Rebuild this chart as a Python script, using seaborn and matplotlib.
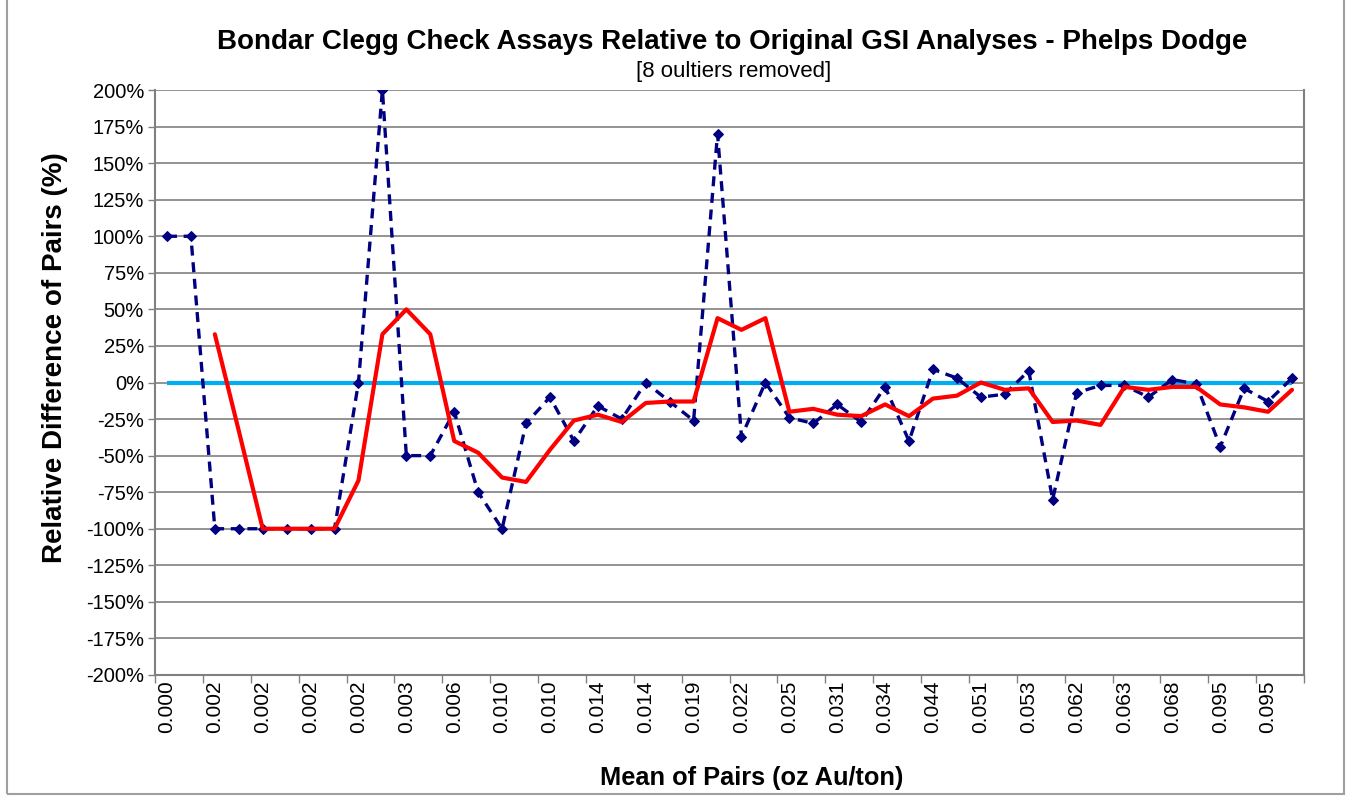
import matplotlib
matplotlib.use("Agg")
import matplotlib.pyplot as plt
import seaborn as sns
import pandas as pd
import numpy as np
from matplotlib.ticker import FixedLocator, FuncFormatter
from matplotlib.patches import Rectangle

# ---- data ----
tick_labels = ["0.000", "0.002", "0.002", "0.002", "0.002", "0.003", "0.006", "0.010",
               "0.010", "0.014", "0.014", "0.019", "0.022", "0.025", "0.031", "0.034",
               "0.044", "0.051", "0.053", "0.062", "0.063", "0.068", "0.095", "0.095"]

relative_diff = [100, 100, -100, -100, -100, -100, -100, -100, 0, 200,
                 -50, -50, -20, -75, -100, -28, -10, -40, -16, -25,
                 0, -13, -26, 170, -37, 0, -24, -28, -15, -27,
                 -3, -40, 9, 3, -10, -8, 8, -80, -7, -2,
                 -2, -10, 2, -1, -44, -4, -13, 3]

moving_avg = [np.nan, np.nan, 33, -33, -100, -100, -100, -100, -67, 33,
              50, 33, -40, -48, -65, -68, -46, -26, -22, -27,
              -14, -13, -13, 44, 36, 44, -20, -18, -22, -23,
              -15, -23, -11, -9, 0, -5, -4, -27, -26, -29,
              -3, -5, -3, -3, -15, -17, -20, -5]

baseline_value = 0

n = len(relative_diff)
df = pd.DataFrame({"idx": np.arange(n), "diff": relative_diff, "ma": moving_avg})

sns.set_theme(style="white")
plt.rcParams['font.family'] = ['Liberation Sans', 'DejaVu Sans']
plt.rcParams['text.color'] = 'black'
plt.rcParams['xtick.labelcolor'] = 'black'
plt.rcParams['ytick.labelcolor'] = 'black'

W, H = 1348, 799
fig = plt.figure(figsize=(W / 100, H / 100), dpi=100)
ax = fig.add_axes([155 / W, 1 - 675 / H, (1304 - 155) / W, (675 - 90) / H])

# baseline at zero
ax.hlines(baseline_value, 0, n - 1, color="#00AEEF", lw=3, zorder=2)

sns.lineplot(data=df, x="idx", y="diff", ax=ax, color="#000080", lw=2.4,
             linestyle=(0, (3, 2)), marker="D", markersize=5.5, markeredgecolor="#000080",
             zorder=3)
sns.lineplot(data=df.dropna(), x="idx", y="ma", ax=ax, color="#FF0000", lw=3, zorder=4)

ax.set_xlim(-0.5, n - 0.5)
ax.set_ylim(-200, 200)
ax.yaxis.set_major_locator(FixedLocator(np.arange(-200, 201, 25)))
ax.yaxis.set_major_formatter(FuncFormatter(lambda v, p: f"{int(v)}%"))
ax.grid(axis="y", color="#808080", lw=1.2)
ax.set_axisbelow(True)

# tick marks at category boundaries, labels at category centres
major_pos = np.arange(-0.5, n, 2)
ax.xaxis.set_major_locator(FixedLocator(major_pos))
ax.xaxis.set_minor_locator(FixedLocator(np.arange(0, n, 2)))
ax.set_xticklabels([""] * len(major_pos))
ax.set_xticklabels(tick_labels, minor=True, rotation=90, fontsize=15)
ax.tick_params(axis="x", which="major", length=6, width=1, color="#808080", direction="out", bottom=True)
ax.tick_params(axis="x", which="minor", length=0, pad=4)
ax.tick_params(axis="y", labelsize=14.5, length=5, width=1, color="#808080", left=True, direction="out", pad=3)

for s in ["left", "bottom", "right", "top"]:
    ax.spines[s].set_color("#808080")
    ax.spines[s].set_linewidth(1.5)
ax.spines["top"].set_visible(False)

ax.set_xlabel("")
ax.set_ylabel("")
fig.text(752 / W, 1 - 778 / H, "Mean of Pairs (oz Au/ton)", ha="center", va="center",
         fontsize=18.3, fontweight="bold")
fig.text(55 / W, 1 - 358 / H, "Relative Difference of Pairs (%)", ha="center", va="center",
         rotation=90, fontsize=20, fontweight="bold")

fig.text(732 / W, 1 - 42 / H, "Bondar Clegg Check Assays Relative to Original GSI Analyses - Phelps Dodge",
         ha="center", va="center", fontsize=20, fontweight="bold")
fig.text(734 / W, 1 - 72 / H, "[8 oultiers removed]", ha="center", va="center", fontsize=16)

# outer chart border
fig.patches.append(Rectangle((7 / W, 1 - 794 / H), (1344 - 7) / W, 794 / H + 0.01,
                             transform=fig.transFigure, fill=False, edgecolor="#A0A0A0", lw=1.5))

fig.savefig("out.png", dpi=100)
